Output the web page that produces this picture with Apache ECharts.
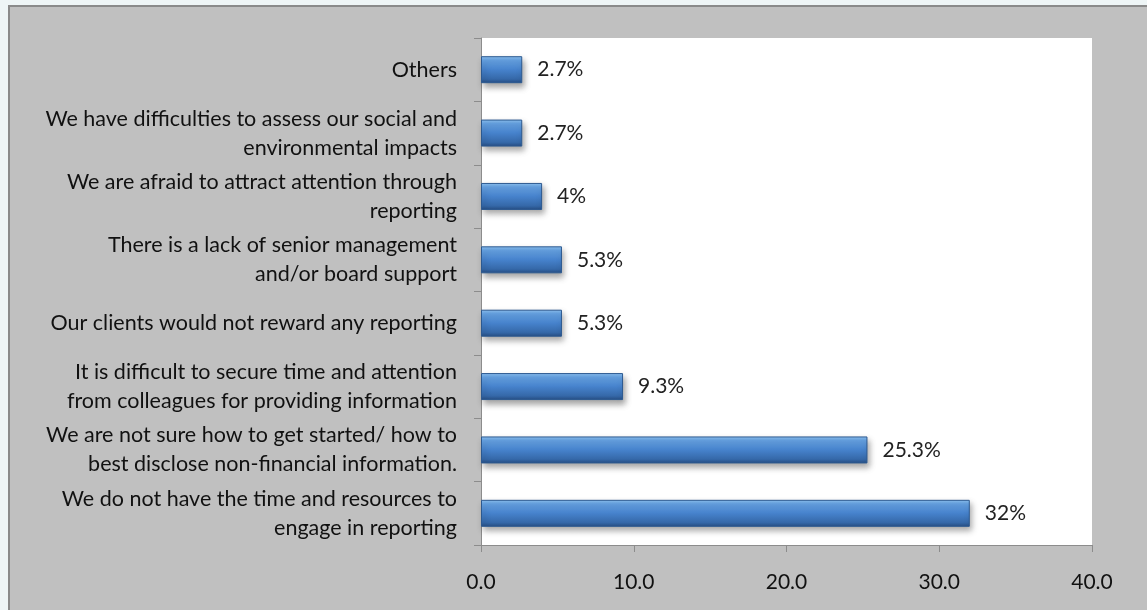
<!DOCTYPE html>
<html>
<head>
<meta charset="utf-8">
<script src="https://cdn.jsdelivr.net/npm/echarts@6/dist/echarts.min.js"></script>
<style>
html,body{margin:0;padding:0;background:#eef5f6;}
#c{width:1147px;height:610px;}
</style>
</head>
<body>
<div id="c"></div>
<script>
const categories = [
  "Others",
  "We have difficulties to assess our social and\nenvironmental impacts",
  "We are afraid to attract attention through\nreporting",
  "There is a lack of senior management\nand/or board support",
  "Our clients would not reward any reporting",
  "It is difficult to secure time and attention\nfrom colleagues for providing information",
  "We are not sure how to get started/ how to\nbest disclose non-financial information.",
  "We do not have the time and resources to\nengage in reporting"
];
const values = [2.7, 2.7, 4, 5.3, 5.3, 9.3, 25.3, 32];
const labels = ["2.7%", "2.7%", "4%", "5.3%", "5.3%", "9.3%", "25.3%", "32%"];
const xTicks = [0, 10, 20, 30, 40];

const chart = echarts.init(document.getElementById('c'), null, {renderer: 'canvas'});
const FONT = 'Lato';
chart.setOption({
  animation: false,
  graphic: [{
    type: 'rect', z: -10, silent: true,
    shape: {x: 9, y: 6, width: 1150, height: 610},
    style: {fill: '#c0c0c0', stroke: '#8a8a8a', lineWidth: 2}
  }],
  grid: {
    left: 481, right: 55, top: 38, bottom: 65,
    show: true, backgroundColor: '#ffffff', borderWidth: 0
  },
  xAxis: {
    type: 'value', min: 0, max: 40, interval: 10,
    axisLine: {show: true, lineStyle: {color: '#8c8c8c', width: 1}},
    axisTick: {show: true, length: 7, lineStyle: {color: '#8c8c8c'}},
    splitLine: {show: false},
    axisLabel: {
      margin: 27, fontFamily: FONT, fontSize: 21, color: '#111',
      formatter: v => xTicks.includes(v) ? v.toFixed(1) : ''
    }
  },
  yAxis: {
    type: 'category', data: categories, inverse: true,
    axisLine: {show: true, lineStyle: {color: '#8c8c8c', width: 1}},
    axisTick: {show: true, length: 7, lineStyle: {color: '#8c8c8c'}},
    axisLabel: {
      margin: 24, fontFamily: FONT, fontSize: 21.5, color: '#111',
      align: 'right', lineHeight: 29
    }
  },
  series: [{
    type: 'bar', data: values, barWidth: 27,
    itemStyle: {
      color: new echarts.graphic.LinearGradient(0, 0, 0, 1, [
        {offset: 0, color: '#8fc3f2'},
        {offset: 0.15, color: '#66a3e4'},
        {offset: 0.5, color: '#4682cc'},
        {offset: 0.85, color: '#3568a8'},
        {offset: 1, color: '#264d82'}
      ]),
      borderColor: '#2c5990', borderWidth: 1,
      shadowColor: 'rgba(0,0,0,0.35)', shadowBlur: 6, shadowOffsetY: 4, shadowOffsetX: 2
    },
    label: {
      show: true, position: 'right', distance: 15,
      fontFamily: FONT, fontSize: 21, color: '#222',
      formatter: p => labels[p.dataIndex]
    }
  }]
});
</script>
</body>
</html>
